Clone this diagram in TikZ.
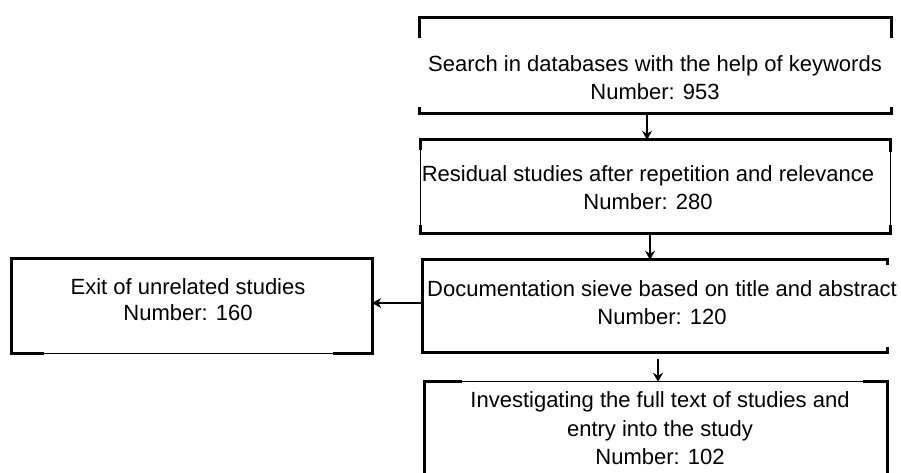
\documentclass[tikz,border=0pt]{standalone}
\usepackage{fontspec}
\setmainfont{Liberation Sans}
\usetikzlibrary{arrows.meta}
\begin{document}
\begin{tikzpicture}[x=1pt,y=-1pt,>={Stealth[length=9pt,width=10pt]},
  box/.style={inner sep=0pt},
  heavy/.style={line width=3pt},
  light/.style={line width=0.8pt},
  txt/.style={align=center,font=\fontsize{22}{28.5}\selectfont},
  arr/.style={->,line width=1.2pt}]
\useasboundingbox (0,0) rectangle (901,473);

% boxes
\node[box,minimum width=471pt,minimum height=95pt] (b1) at (655.5,65.5) {};
\node[box,minimum width=469pt,minimum height=93pt] (b2) at (655.5,186.5) {};
\node[box,minimum width=464pt,minimum height=92pt] (b3) at (655,306) {};
\node[box,minimum width=462pt,minimum height=110pt] (b4) at (656,437) {};
\node[box,minimum width=360pt,minimum height=94pt] (b5) at (192,306) {};

% texts
\node[txt] (t1) at (655,77.5) {Search in databases with the help of keywords\\Number: 953};
\node[txt] (t2) at (648,187.5) {Residual studies after repetition and relevance\\Number: 280};
\node[txt] (t3) at (662,302.5) {Documentation sieve based on title and abstract\\Number: 120};
\node[txt] (t4) at (660,428.5) {Investigating the full text of studies and\\entry into the study\\Number: 102};
\node[txt,font=\fontsize{22}{26}\selectfont] (t5) at (188,300) {Exit of unrelated studies\\Number: 160};

% borders
\draw[heavy] ([yshift=-20pt]b1.north west) -- (b1.north west) -- (b1.north east) -- ([yshift=-20pt]b1.north east);
\draw[heavy] ([yshift=6pt]b1.south west) -- (b1.south west) -- (b1.south east) -- ([yshift=6pt]b1.south east);

\draw[light] (b2.north west) rectangle (b2.south east);
\draw[heavy] ([yshift=-10pt]b2.north west) -- (b2.north west) -- (b2.north east) -- ([yshift=-12pt]b2.north east);
\draw[heavy] ([yshift=8pt]b2.south west) -- (b2.south west) -- (b2.south east) -- ([yshift=8pt]b2.south east);

\draw[heavy] ([yshift=-5pt]b3.north east) -- (b3.north east) -- (b3.north west)
  -- (b3.south west) -- (b3.south east) -- ([yshift=5pt]b3.south east);

\draw[light] (b4.north west) -- (b4.north east);
\draw[heavy] ([xshift=37pt]b4.north west) -- (b4.north west) -- (b4.south west);
\draw[heavy] ([xshift=-24pt]b4.north east) -- (b4.north east) -- (b4.south east);

\draw[light] (b5.south west) -- (b5.south east);
\draw[heavy] ([xshift=32pt]b5.south west) -- (b5.south west) -- (b5.north west)
  -- (b5.north east) -- (b5.south east) -- ([xshift=-39pt]b5.south east);

% arrows
\draw[arr] ([xshift=-8.5pt]b1.south) -- ([xshift=-8.5pt]b1.south |- b2.north);
\draw[arr] ([xshift=-5.5pt]b2.south) -- ([xshift=-5.5pt]b2.south |- b3.north);
\draw[arr] ([xshift=3pt,yshift=-7pt]b3.south) -- ([xshift=3pt]b3.south |- b4.north);
\draw[arr] ([yshift=3pt]b3.west) -- ([yshift=3pt]b3.west -| b5.east);
\end{tikzpicture}
\end{document}
